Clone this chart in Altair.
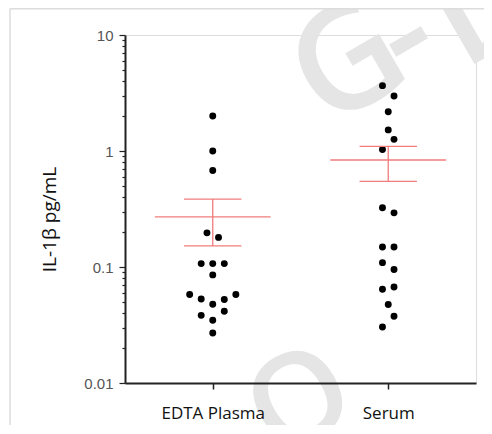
import json
import altair as alt
import pandas as pd

# ---- data ----
categories = ["EDTA Plasma", "Serum"]

edta_values = [2.0, 1.0, 0.68, 0.197, 0.18, 0.107, 0.107, 0.107, 0.0855,
               0.058, 0.053, 0.0477, 0.0524, 0.058, 0.0383, 0.0415, 0.0347, 0.027]
edta_slots = [0, 0, 0, -1, 1, -2, 0, 2, 0, -4, -2, 0, 2, 4, -2, 2, 0, 0]

serum_values = [3.66, 2.98, 2.18, 1.52, 1.26, 1.03, 0.324, 0.293, 0.149, 0.149,
                0.109, 0.095, 0.0643, 0.0673, 0.0475, 0.0376, 0.0304]
serum_slots = [-1, 1, 0, 0, 1, -1, -1, 1, -1, 1, -1, 1, -1, 1, 0, 1, -1]

means = [0.27, 0.836]
sem_upper = [0.385, 1.098]
sem_lower = [0.152, 0.547]

# watermark glyphs (decoration)
watermark_text = ["G", "-", "L", "O"]

# ---- build tables ----
SLOT = 0.0329  # horizontal spacing of swarm dots (x units)
rows = []
for i, (vals, slots) in enumerate([(edta_values, edta_slots), (serum_values, serum_slots)]):
    for v, s in zip(vals, slots):
        rows.append({"group": categories[i], "x": i + 0.5 + s * SLOT, "value": v})
points = pd.DataFrame(rows)

stats = pd.DataFrame({
    "group": categories,
    "cx": [i + 0.5 for i in range(len(categories))],
    "mean": means,
    "hi": sem_upper,
    "lo": sem_lower,
})

y_ticks = []
for e in range(-2, 1):
    for m in range(1, 10):
        y_ticks.append(round(m * 10 ** e, 10))
y_ticks.append(10)

W, H = 351, 348
RED = "#f27c7c"
LBL_FONT = "Open Sans"
WM = "#e5e5e5"

is_decade = "abs(log(datum.value)/LN10 - round(log(datum.value)/LN10)) < 0.001"

x_scale = alt.Scale(domain=[0, len(categories)], nice=False, zero=False)
y_scale = alt.Scale(type="log", domain=[0.01, 10], nice=False)

x_axis = alt.Axis(
    values=[i + 0.5 for i in range(len(categories))],
    labelExpr=json.dumps(categories) + "[floor(datum.value)]",
    title=None, grid=False, zindex=1,
    domainColor="#222", domainWidth=2, tickColor="#222", tickWidth=1.5, tickSize=6,
    labelFont=LBL_FONT, labelFontSize=17, labelColor="#111", labelPadding=16,
)
y_axis = alt.Axis(
    values=y_ticks,
    labelExpr="(" + is_decade + ") ? format(datum.value, '~g') : ''",
    title="IL-1β pg/mL", grid=False, zindex=1,
    domainColor="#222", domainWidth=2, tickColor="#222", tickWidth=1.2,
    tickSize={"condition": {"test": is_decade, "value": 6}, "value": 3},
    labelFont="Liberation Sans", labelFontSize=15, labelColor="#555", labelPadding=6,
    titleFont=LBL_FONT, titleFontSize=19, titleFontWeight="normal", titleColor="#111",
    titlePadding=24, titleY=184,
)

# light frame around the figure (top and left edges visible)
frame_top = alt.Chart(alt.Data(values=[{}])).mark_rule(
    color="#dcdcdc", strokeWidth=1.5
).encode(x=alt.value(-115), x2=alt.value(W + 60), y=alt.value(-26.2))
frame_left = alt.Chart(alt.Data(values=[{}])).mark_rule(
    color="#dcdcdc", strokeWidth=1.5
).encode(x=alt.value(-115), y=alt.value(-26.2), y2=alt.value(H + 80))

# faint watermark glyphs
wm_df = pd.DataFrame({
    "t": watermark_text,
    "px": [224, 281, 350, 176],
    "py": [30, 2, -22, 368],
    "fs": [145, 145, 145, 125],
})
watermark = alt.Chart(wm_df).mark_text(
    font="Open Sans", fontWeight=600, angle=330, color=WM, align="center", baseline="middle"
).encode(
    text="t:N",
    x=alt.X("px:Q", scale=None),
    y=alt.Y("py:Q", scale=None),
    size=alt.Size("fs:Q", scale=None, legend=None),
)

dots = alt.Chart(points).mark_circle(size=48, color="black", opacity=1).encode(
    x=alt.X("x:Q", scale=x_scale, axis=x_axis),
    y=alt.Y("value:Q", scale=y_scale, axis=y_axis),
)

base = alt.Chart(stats).transform_calculate(
    mx1="datum.cx - 0.33", mx2="datum.cx + 0.33",
    cx1="datum.cx - 0.1635", cx2="datum.cx + 0.1635",
)
mean_line = base.mark_rule(color=RED, strokeWidth=1.3).encode(
    x="mx1:Q", x2="mx2:Q", y="mean:Q")
cap_hi = base.mark_rule(color=RED, strokeWidth=1.3).encode(
    x="cx1:Q", x2="cx2:Q", y="hi:Q")
cap_lo = base.mark_rule(color=RED, strokeWidth=1.3).encode(
    x="cx1:Q", x2="cx2:Q", y="lo:Q")
stem = base.mark_rule(color=RED, strokeWidth=1.3).encode(
    x="cx:Q", y="lo:Q", y2="hi:Q")

chart = alt.layer(watermark, frame_top, frame_left, dots, mean_line, cap_hi, cap_lo, stem).properties(
    width=W, height=H,
    autosize=alt.AutoSizeParams(type="none"),
    padding={"left": 117, "top": 27, "right": 8, "bottom": 42},
).configure_view(stroke=None).configure(background="white")

chart.save("out.html", embed_options={"renderer": "svg", "actions": False})
